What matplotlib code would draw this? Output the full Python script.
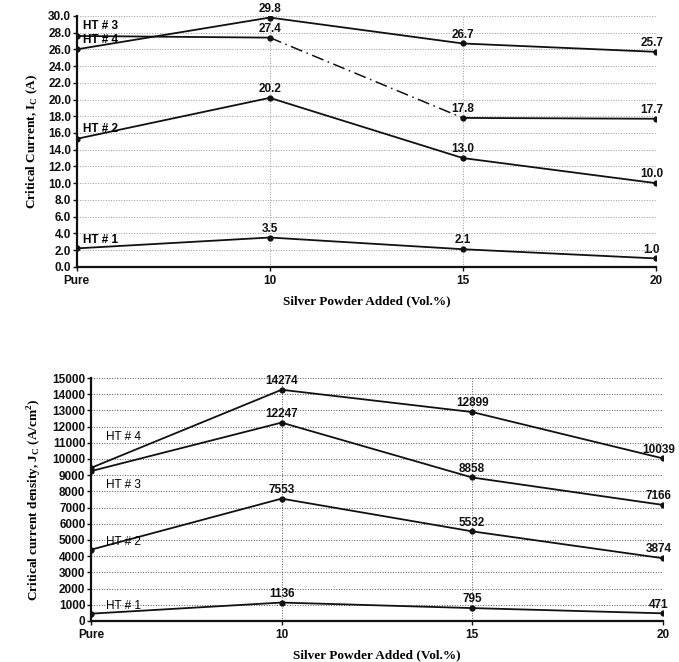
import matplotlib
matplotlib.use("Agg")
import matplotlib.pyplot as plt
import numpy as np

# ----------------------------- data ----------------------------------------
CATS = ["Pure", "10", "15", "20"]

# critical current Ic (A)
IC_HT1 = [2.2, 3.5, 2.1, 1.0]
IC_HT2 = [15.3, 20.2, 13.0, 10.0]
IC_HT3 = [26.0, 29.8, 26.7, 25.7]
IC_HT4 = [27.6, 27.4, 17.8, 17.7]

# critical current density Jc (A/cm2)
JC_HT1 = [450, 1136, 795, 471]
JC_HT2 = [4400, 7553, 5532, 3874]
JC_HT3 = [9250, 12247, 8858, 7166]
JC_HT4 = [9450, 14274, 12899, 10039]

SANS = ["Liberation Sans", "DejaVu Sans"]
SERIF = ["Liberation Serif", "DejaVu Serif"]
INK = "#111111"


def _series(ax, y, labelled, fmt, dashed_seg=None):
    x = np.arange(len(y))
    if dashed_seg is None:
        ax.plot(x, y, color=INK, lw=1.3)
    else:
        i = dashed_seg
        ax.plot(x[:i + 1], y[:i + 1], color=INK, lw=1.3)
        ax.plot(x[i:i + 2], y[i:i + 2], color=INK, lw=1.1, ls=(0, (8, 3, 1, 3)))
        ax.plot(x[i + 1:], y[i + 1:], color=INK, lw=1.3)
    ax.plot(x, y, "o", color=INK, ms=3.5)
    for xi, yi in zip(x[labelled], np.array(y)[labelled]):
        ax.annotate(fmt.format(yi), (xi, yi), xytext=(0 if xi < 3 else -3, 2),
                    textcoords="offset points", ha="center", va="bottom",
                    fontsize=8.5, fontweight="bold", family=SANS, color=INK)


def _style(ax, ylabel, grid_col):
    ax.spines[["top", "right"]].set_visible(False)
    for s in ["left", "bottom"]:
        ax.spines[s].set_linewidth(1.6)
        ax.spines[s].set_color(INK)
    ax.set_xticks(range(len(CATS)))
    ax.set_xticklabels(CATS)
    ax.tick_params(axis="both", length=3, width=1, pad=1, labelsize=8.5, colors=INK)
    ax.tick_params(axis="x", pad=3)
    for t in ax.get_xticklabels() + ax.get_yticklabels():
        t.set_fontweight("bold"); t.set_family(SANS)
    ax.set_xlabel("Silver Powder Added (Vol.%)", family=SERIF, fontweight="bold",
                  fontsize=9.5, labelpad=6)
    ax.set_ylabel(ylabel, family=SERIF, fontweight="bold", fontsize=9.5, labelpad=6)
    ax.grid(axis="y", ls=":", lw=0.7, color=grid_col)
    for xv in [1, 2, 3]:
        ax.axvline(xv, ls=":", lw=0.7, color=grid_col, zorder=0)


fig = plt.figure(figsize=(6.79, 6.62), dpi=100)
fig.patch.set_facecolor("white")

# ----------------------------- top: Ic -------------------------------------
a1 = fig.add_axes([0.113, 0.597, 0.853, 0.379])
_series(a1, IC_HT1, [1, 2, 3], "{:.1f}")
_series(a1, IC_HT2, [1, 2, 3], "{:.1f}")
_series(a1, IC_HT3, [1, 2, 3], "{:.1f}")
_series(a1, IC_HT4, [1, 2, 3], "{:.1f}", dashed_seg=1)
a1.set_xlim(0, 3.0)
a1.set_ylim(0, 30)
a1.set_yticks(np.arange(0, 30.1, 2))
a1.yaxis.set_major_formatter(matplotlib.ticker.FormatStrFormatter("%.1f"))
_style(a1, r"Critical Current, I$_\mathregular{C}$ (A)", "#999999")
for txt, yy in [("HT # 3", 28.1), ("HT # 4", 26.4), ("HT # 2", 15.7), ("HT # 1", 2.5)]:
    a1.text(0.03, yy, txt, fontsize=8.5, fontweight="bold", family=SANS, va="bottom")

# ----------------------------- bottom: Jc ----------------------------------
a2 = fig.add_axes([0.134, 0.062, 0.842, 0.367])
_series(a2, JC_HT1, [1, 2, 3], "{:.0f}")
_series(a2, JC_HT2, [1, 2, 3], "{:.0f}")
_series(a2, JC_HT3, [1, 2, 3], "{:.0f}")
_series(a2, JC_HT4, [1, 2, 3], "{:.0f}")
a2.set_xlim(0, 3.0)
a2.set_ylim(0, 15000)
a2.set_yticks(np.arange(0, 15001, 1000))
_style(a2, r"Critical current density, J$_\mathregular{C}$ (A/cm$^\mathregular{2}$)", "#555555")
for txt, yy in [("HT # 4", 11000), ("HT # 3", 8000), ("HT # 2", 4500), ("HT # 1", 550)]:
    a2.text(0.08, yy, txt, fontsize=8.5, family=SANS, va="bottom")

fig.savefig("out.png", dpi=100, facecolor="white")
